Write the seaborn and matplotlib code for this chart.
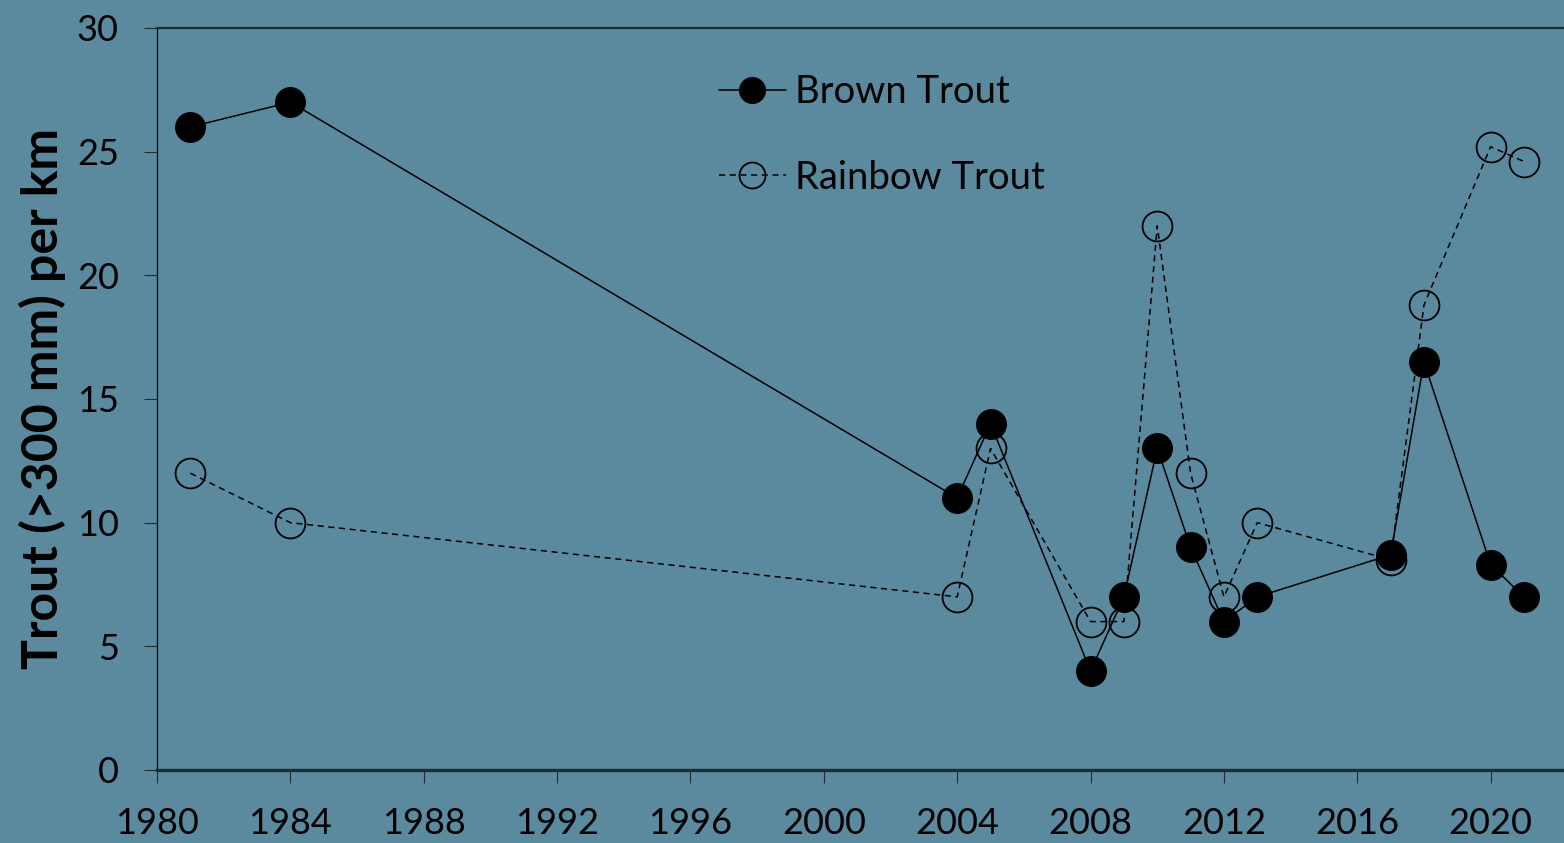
import numpy as np
import pandas as pd
import matplotlib
matplotlib.use("Agg")
import matplotlib.pyplot as plt
import seaborn as sns

# valores
years = [1981, 1984, 2004, 2005, 2008, 2009, 2010, 2011, 2012, 2013, 2017, 2018, 2020, 2021]
brown = [26, 27, 11, 14, 4, 7, 13, 9, 6, 7, 8.7, 16.5, 8.3, 7.0]
rainbow = [12, 10, 7, 13, 6, 6, 22, 12, 7, 10, 8.5, 18.8, 25.2, 24.6]
x_ticks = list(range(1980, 2021, 4))
y_ticks = [0, 5, 10, 15, 20, 25, 30]

bg = "#5b8a9e"

sns.set_style("ticks")
plt.rcParams["font.family"] = ["Lato", "DejaVu Sans"]
plt.rcParams["text.color"] = "black"
plt.rcParams["xtick.color"] = "black"
plt.rcParams["ytick.color"] = "black"
plt.rcParams["axes.labelcolor"] = "black"

fig = plt.figure(figsize=(15.64, 8.43), dpi=100)
fig.patch.set_facecolor(bg)
ax = fig.add_axes([0.1004, 0.0866, 0.8996, 0.8802])
ax.set_facecolor(bg)

sns.lineplot(x=years, y=rainbow, ax=ax, color="black", linewidth=1.1,
             linestyle=(0, (4, 3)), marker="o", markersize=21.5,
             markerfacecolor="none", markeredgecolor="black",
             markeredgewidth=1.3, label="Rainbow Trout", zorder=2)
sns.lineplot(x=years, y=brown, ax=ax, color="black", linewidth=1.1,
             marker="o", markersize=21.5, markerfacecolor="black",
             markeredgecolor="black", label="Brown Trout", zorder=3)

ax.set_xlim(1980, 2022.2)
ax.set_ylim(0, 30)
ax.set_xticks(x_ticks)
ax.set_yticks(y_ticks)
ax.tick_params(axis="both", which="major", labelsize=26, direction="out",
               length=9.5, width=0.8, color="#1f2d33", labelcolor="black")
ax.tick_params(axis="x", pad=17)
ax.tick_params(axis="y", pad=18)

ax.spines["right"].set_visible(False)
ax.spines["left"].set_color("black")
ax.spines["left"].set_linewidth(0.9)
ax.spines["bottom"].set_color("#1f2d33")
ax.spines["bottom"].set_linewidth(2.4)
ax.spines["top"].set_color("#1f2d33")
ax.spines["top"].set_linewidth(1.6)

ax.set_xlabel("")
ax.set_ylabel("Trout (>300 mm) per km", fontsize=36, fontweight="bold",
              labelpad=8, color="black")

handles, labels = ax.get_legend_handles_labels()
order = [labels.index("Brown Trout"), labels.index("Rainbow Trout")]
leg = ax.legend([handles[i] for i in order], [labels[i] for i in order],
                loc="upper left", bbox_to_anchor=(719 / 1564, 1 - 74 / 843),
                bbox_transform=fig.transFigure, frameon=False, fontsize=27.5,
                handlelength=1.75, handletextpad=0.24, labelspacing=1.3,
                markerscale=0.87, borderpad=0, borderaxespad=0)

fig.savefig("out.png", dpi=100, facecolor=bg)
